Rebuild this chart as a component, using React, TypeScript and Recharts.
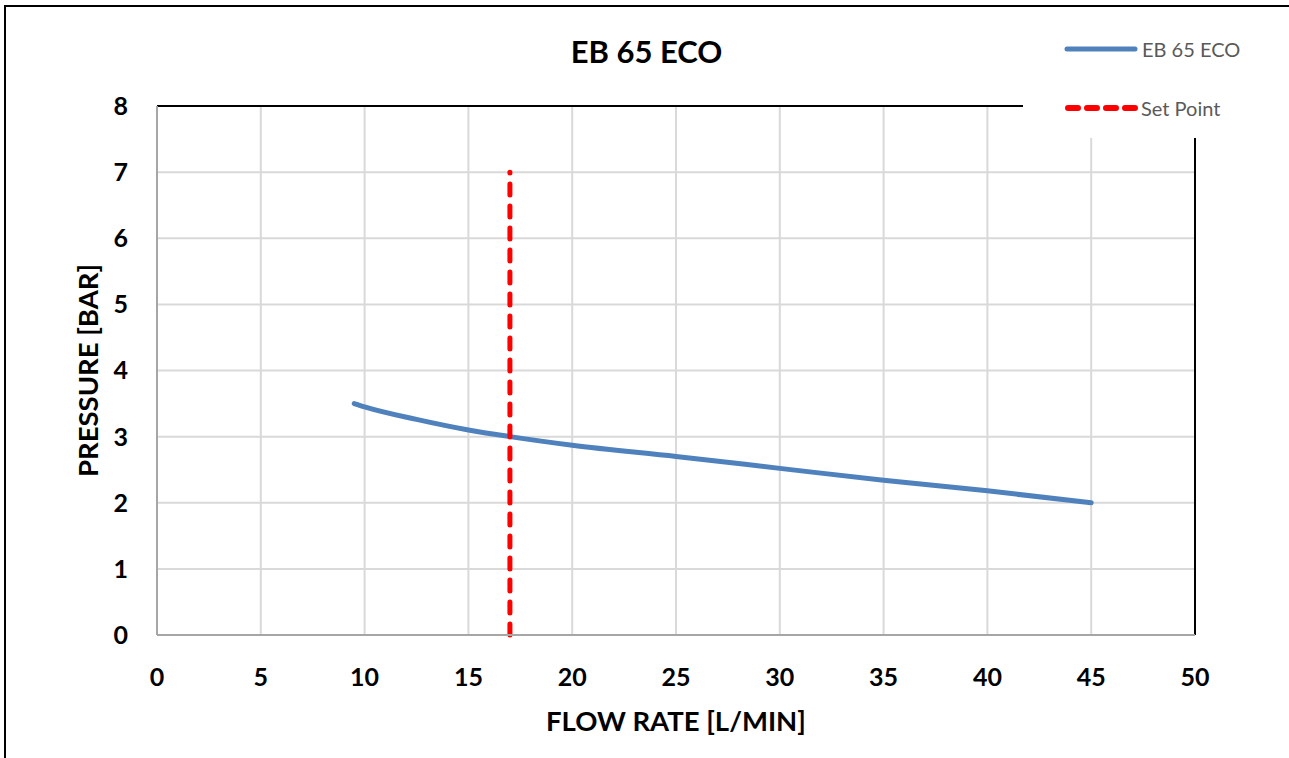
import React from 'react';
import { LineChart, Line, XAxis, YAxis, CartesianGrid, ReferenceLine } from 'recharts';

// pump curve
const flowRates = [9.5, 10, 12.5, 15, 17, 20, 25, 30, 35, 40, 45];
const pressures = [3.5, 3.45, 3.26, 3.1, 3.0, 2.87, 2.7, 2.52, 2.34, 2.18, 2.0];

const setPointFlow = [17, 17];
const setPointPressure = [0, 7];

const xTicks = [0, 5, 10, 15, 20, 25, 30, 35, 40, 45, 50];
const yTicks = [0, 1, 2, 3, 4, 5, 6, 7, 8];

const curve = flowRates.map((x, i) => ({ x, y: pressures[i] }));
const setPoint = setPointFlow.map((x, i) => ({ x, y: setPointPressure[i] }));

const FONT = 'Lato, "Open Sans", sans-serif';
const BLUE = '#4F81BD';
const RED = '#FF0000';

export default function App() {
  return (
    <div style={{ position: 'fixed', left: 0, top: 0, right: 0, bottom: 0, overflow: 'hidden', background: '#fff', fontFamily: FONT }}>
      <div style={{ position: 'absolute', left: 4, top: 5, right: -10, bottom: -10, borderLeft: '2px solid #000', borderTop: '2px solid #000' }} />

      <div style={{ position: 'absolute', left: 4, top: 6 }}>
        <LineChart width={1280} height={752} margin={{ top: 100, right: 89, left: 0, bottom: 23 }}>
          <CartesianGrid stroke="#d9d9d9" strokeWidth={2} horizontalValues={yTicks} verticalValues={xTicks} />
          <XAxis
            type="number"
            dataKey="x"
            domain={[0, 50]}
            ticks={xTicks}
            allowDataOverflow
            height={100}
            tickLine={false}
            tickSize={0}
            tickMargin={33}
            axisLine={{ stroke: '#a6a6a6', strokeWidth: 2 }}
            tick={{ fill: '#000', fontSize: 25, fontWeight: 700, fontFamily: FONT }}
            label={{ value: 'FLOW RATE [L/MIN]', position: 'insideBottom', offset: 4, fill: '#000', fontSize: 27.5, fontWeight: 700, fontFamily: FONT }}
          />
          <YAxis
            type="number"
            dataKey="y"
            domain={[0, 8]}
            ticks={yTicks}
            width={153}
            tickLine={false}
            tickSize={0}
            tickMargin={29}
            axisLine={{ stroke: '#a6a6a6', strokeWidth: 2 }}
            tick={{ fill: '#000', fontSize: 25, fontWeight: 700, fontFamily: FONT }}
            label={{
              content: (props: any) => {
                const vb = props.viewBox;
                const cx = 83;
                const cy = vb.y + vb.height / 2;
                return (
                  <text
                    x={cx}
                    y={cy}
                    transform={`rotate(-90 ${cx} ${cy})`}
                    textAnchor="middle"
                    dominantBaseline="central"
                    fill="#000"
                    fontSize={27.5}
                    fontWeight={700}
                    fontFamily={FONT}
                  >
                    PRESSURE [BAR]
                  </text>
                );
              },
            }}
          />
          <ReferenceLine y={8} stroke="#000" strokeWidth={2} />
          <ReferenceLine x={50} stroke="#000" strokeWidth={2} />
          <Line
            data={curve}
            dataKey="y"
            type="monotone"
            stroke={BLUE}
            strokeWidth={5}
            strokeLinecap="round"
            dot={false}
            activeDot={false}
            isAnimationActive={false}
          />
          <Line
            data={setPoint}
            dataKey="y"
            type="linear"
            stroke={RED}
            strokeWidth={5}
            strokeDasharray="11 11"
            strokeLinecap="round"
            dot={false}
            activeDot={false}
            isAnimationActive={false}
          />
        </LineChart>
      </div>

      <div style={{ position: 'absolute', left: 0, width: 1293, top: 32, textAlign: 'center', fontSize: 31, fontWeight: 700, color: '#000', lineHeight: '38px' }}>
        EB 65 ECO
      </div>

      <div style={{ position: 'absolute', left: 1023, top: 10, width: 270, height: 128, background: '#fff' }}>
        <svg width={80} height={128} style={{ position: 'absolute', left: 40, top: 0 }}>
          <line x1={4} y1={39} x2={72} y2={39} stroke={BLUE} strokeWidth={5} strokeLinecap="round" />
          <line x1={5} y1={98} x2={72} y2={98} stroke={RED} strokeWidth={6} strokeDasharray="10 9" strokeLinecap="round" />
        </svg>
        <div style={{ position: 'absolute', left: 119, top: 26, fontSize: 20, color: '#595959', lineHeight: '26px', whiteSpace: 'nowrap' }}>EB 65 ECO</div>
        <div style={{ position: 'absolute', left: 118, top: 85, fontSize: 20, color: '#595959', lineHeight: '26px', whiteSpace: 'nowrap' }}>Set Point</div>
      </div>
    </div>
  );
}
